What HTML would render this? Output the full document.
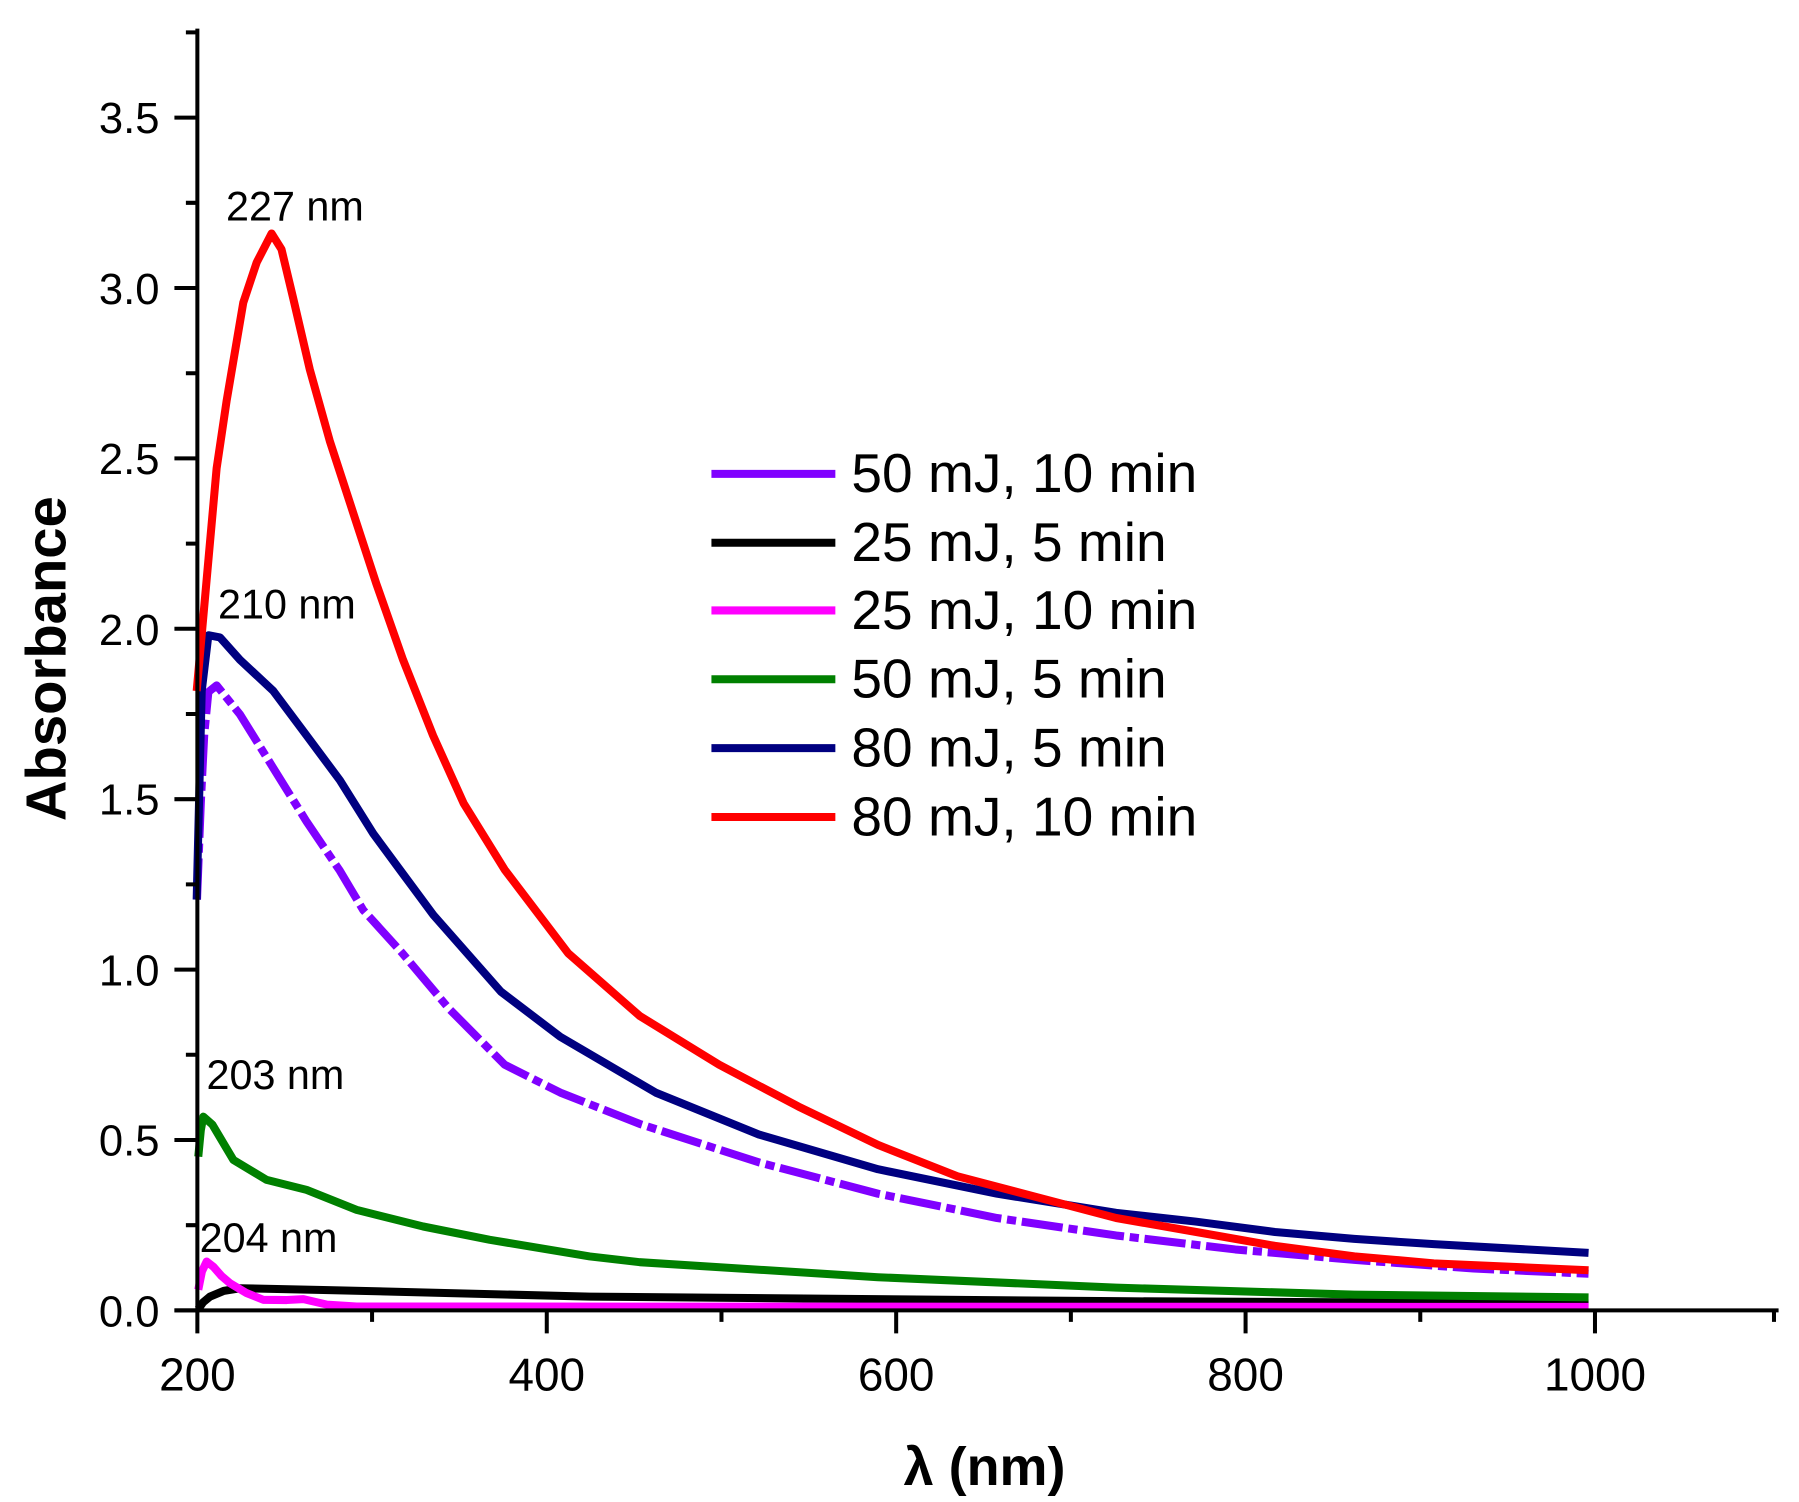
<!DOCTYPE html>
<html><head><style>html,body{margin:0;padding:0;background:#fff}svg{display:block}</style></head>
<body>
<svg width="1799" height="1502" viewBox="0 0 1567.8 1309" preserveAspectRatio="none" xmlns="http://www.w3.org/2000/svg" font-family="Liberation Sans, Arial, sans-serif">
<g fill="none" stroke-linejoin="round" stroke-linecap="butt" stroke-width="7">
<polyline stroke="#000" points="172.8,1141 177,1135 183,1130 195,1125 209.1,1122.7 281.7,1124.2 514,1130 626.7,1131 972.7,1134 1384.4,1136"/>
<polyline stroke="#ff00ff" points="172.8,1124 176,1108 180.1,1099.4 186,1104 193,1112 200.4,1118.3 215,1127 229.5,1132.8 250,1133 264.4,1132.2 285,1137 310.8,1138.6 1384.4,1139"/>
<polyline stroke="#008000" points="172.8,1008 175,985 177.2,973.2 185,980 203.4,1010.9 232.4,1028.3 267.2,1037 310.8,1054.4 368.8,1068.9 426.9,1080.5 514,1095 557.5,1100 765.1,1113.1 972.7,1122.2 1180.3,1128.3 1384.4,1130.7"/>
<polyline stroke="#8000ff" stroke-dasharray="36,5,8,5" points="171.7,784 175,700 178,640 181.6,603.1 188.8,597.3 209.1,622.6 238.2,669.4 267.2,716.1 296.2,758.9 316.6,793.2 350,830 391.5,879.3 439.8,927.9 488.3,952.2 557.5,979.5 661.3,1013 765.1,1040.3 868.9,1061.5 972.7,1076.7 1076.5,1088.9 1180.3,1098 1284.1,1105.5 1384.4,1110.1"/>
<polyline stroke="#000080" points="171.4,784 175.8,602 181.6,553.6 191.7,555.5 209.1,575 238.2,602.2 267.2,641 296.2,680 325.3,726.5 350,760 377.7,797.4 436.5,864.2 488.3,903.6 571.4,952.2 661.3,988.7 765.1,1019 868.9,1040.3 972.7,1057 1041.9,1064.6 1111.1,1073.7 1180.3,1079.7 1249.5,1084.3 1384.4,1091.9"/>
<polyline stroke="#ff0000" points="171.4,602.2 180.1,505 188.8,408 197.5,349.3 212,263.8 223.7,228.7 236.7,203.5 245.3,217.2 255.5,259.9 270,322.1 287.4,384.3 307.7,446.6 328,508.8 351.2,574.9 377.4,641 404,700 439.8,757.9 495.2,830.8 557.5,885.4 626.7,927.9 695.9,964.4 765.1,997.8 834.3,1025.1 903.5,1043.3 972.7,1061.5 1041.9,1073.6 1111.1,1085.8 1180.3,1094.9 1249.5,1101 1384.4,1107"/>
</g>
<g stroke="#000" stroke-width="3.5" fill="none">
<line x1="172" y1="25" x2="172" y2="1144"/>
<line x1="152" y1="1142" x2="1550" y2="1142"/>
<path d="M152,1142H172M152,993.5H172M152,845H172M152,696.5H172M152,548H172M152,399.5H172M152,251H172M152,102.5H172
M162,1067.75H172M162,919.25H172M162,770.75H172M162,622.25H172M162,473.75H172M162,325.25H172M162,176.75H172M162,28.25H172
M172,1142V1162M476.5,1142V1162M781,1142V1162M1085.5,1142V1162M1390,1142V1162
M324.25,1142V1152M628.75,1142V1152M933.25,1142V1152M1237.75,1142V1152M1546,1142V1152"/>
</g>
<g font-size="38" text-anchor="end" fill="#000">
<text x="139" y="1156">0.0</text><text x="139" y="1007">0.5</text><text x="139" y="859">1.0</text><text x="139" y="710">1.5</text><text x="139" y="562">2.0</text><text x="139" y="413">2.5</text><text x="139" y="265">3.0</text><text x="139" y="116">3.5</text>
</g>
<g font-size="40" text-anchor="middle" fill="#000">
<text x="172" y="1212">200</text><text x="476.5" y="1212">400</text><text x="781" y="1212">600</text><text x="1085.5" y="1212">800</text><text x="1390" y="1212">1000</text>
</g>
<text x="858" y="1294" font-size="47" font-weight="bold" text-anchor="middle">λ (nm)</text>
<text transform="translate(57,574) rotate(-90)" font-size="49" font-weight="bold" text-anchor="middle">Absorbance</text>
<g font-size="36">
<text x="197" y="192">227 nm</text><text x="190" y="539">210 nm</text><text x="180" y="949">203 nm</text><text x="174" y="1091">204 nm</text>
</g>
<g stroke-width="7">
<line x1="620" y1="413" x2="728" y2="413" stroke="#8000ff"/>
<line x1="620" y1="473" x2="728" y2="473" stroke="#000"/>
<line x1="620" y1="532" x2="728" y2="532" stroke="#ff00ff"/>
<line x1="620" y1="592" x2="728" y2="592" stroke="#008000"/>
<line x1="620" y1="652" x2="728" y2="652" stroke="#000080"/>
<line x1="620" y1="712" x2="728" y2="712" stroke="#ff0000"/>
</g>
<g font-size="48">
<text x="742" y="429">50 mJ, 10 min</text><text x="742" y="489">25 mJ, 5 min</text><text x="742" y="548">25 mJ, 10 min</text><text x="742" y="608">50 mJ, 5 min</text><text x="742" y="668">80 mJ, 5 min</text><text x="742" y="728">80 mJ, 10 min</text>
</g>
</svg>
</body></html>
